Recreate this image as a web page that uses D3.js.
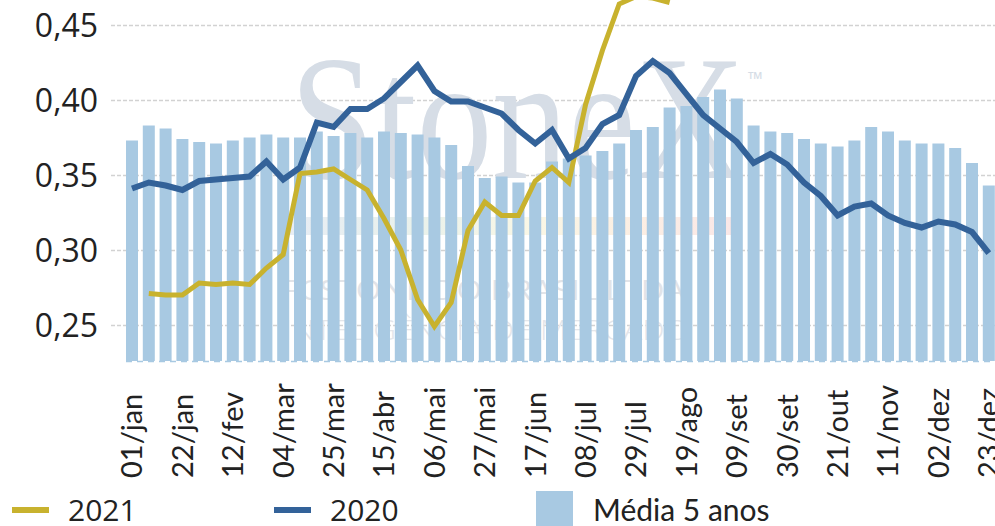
<!DOCTYPE html>
<html>
<head>
<meta charset="utf-8">
<script src="https://cdn.jsdelivr.net/npm/d3@7"></script>
<style>
  body { margin: 0; background: #fff; }
  svg { display: block; }
</style>
</head>
<body>
<div id="chart"></div>
<script>
// weekly categories
const weeks = ["01/jan","08/jan","15/jan","22/jan","29/jan","05/fev","12/fev","19/fev","26/fev",
    "04/mar","11/mar","18/mar","25/mar","01/abr","08/abr","15/abr","22/abr","29/abr",
    "06/mai","13/mai","20/mai","27/mai","03/jun","10/jun","17/jun","24/jun","01/jul",
    "08/jul","15/jul","22/jul","29/jul","05/ago","12/ago","19/ago","26/ago","02/set",
    "09/set","16/set","23/set","30/set","07/out","14/out","21/out","28/out","04/nov",
    "11/nov","18/nov","25/nov","02/dez","09/dez","16/dez","23/dez"];

// Média 5 anos (bars)
const media5 = [0.373,0.383,0.381,0.374,0.372,0.371,0.373,0.375,0.377,0.375,0.375,0.379,0.376,
    0.378,0.375,0.379,0.378,0.377,0.375,0.370,0.356,0.348,0.349,0.345,0.345,0.359,0.361,
    0.363,0.366,0.371,0.380,0.382,0.395,0.396,0.402,0.407,0.401,0.383,0.379,0.378,0.374,
    0.371,0.369,0.373,0.382,0.379,0.373,0.371,0.371,0.368,0.358,0.343];

// 2020
const s2020 = [0.341,0.345,0.343,0.340,0.346,0.347,0.348,0.349,0.359,0.347,0.355,0.385,0.382,
    0.394,0.394,0.401,0.412,0.423,0.406,0.399,0.399,0.395,0.391,0.380,0.371,0.380,0.361,
    0.368,0.384,0.390,0.416,0.426,0.418,0.404,0.390,0.381,0.372,0.358,0.364,0.357,0.345,
    0.336,0.323,0.329,0.331,0.323,0.318,0.315,0.319,0.317,0.312,0.298];

// 2021 (starts in the second week, ends mid-August)
const s2021 = [null,0.271,0.270,0.270,0.278,0.277,0.278,0.277,0.288,0.297,0.351,0.352,0.354,
    0.347,0.340,0.321,0.300,0.267,0.249,0.265,0.313,0.332,0.323,0.323,0.346,0.355,0.345,
    0.397,0.433,0.464,0.469,0.468,0.465];

const yTicks = [0.25, 0.30, 0.35, 0.40, 0.45];

const W = 995, H = 526;
const colBar = "#a8c9e2", col2020 = "#336299", col2021 = "#c8b22e";

const svg = d3.select("#chart").append("svg")
    .attr("width", W)
    .attr("height", H);

const x = d3.scaleBand().domain(weeks).range([123.6, 997.2]).paddingInner(0.286).paddingOuter(0.143);
const y = d3.scaleLinear().domain([0.226, 0.46667]).range([361, 0]);
const cx = d => x(d) + x.bandwidth() / 2;

// gridlines
svg.append("g")
    .attr("transform", "translate(111,0)")
    .call(d3.axisLeft(y).tickValues(yTicks).tickSize(-(W - 111)).tickFormat(""))
    .call(g => g.select(".domain").remove())
    .call(g => g.selectAll("line").attr("stroke", "#d2d2d2").attr("stroke-width", 1.3).attr("stroke-dasharray", "4,2"));

// watermark
const wm = svg.append("g").attr("class", "watermark");
const grad = svg.append("defs").append("linearGradient").attr("id", "wmgrad");
[["0%", "#9fb6d6"], ["30%", "#a9c9b0"], ["55%", "#e8df9a"], ["75%", "#f2c08e"], ["100%", "#eaa0a0"]]
    .forEach(s => grad.append("stop").attr("offset", s[0]).attr("stop-color", s[1]));
wm.append("text")
    .attr("x", 290).attr("y", 178)
    .attr("textLength", 455).attr("lengthAdjust", "spacingAndGlyphs")
    .style("font-family", "'Liberation Serif', serif")
    .style("font-size", "178px")
    .attr("fill", "#d6dde6")
    .text("StoneX");
wm.append("text")
    .attr("x", 748).attr("y", 86)
    .style("font-family", "'Open Sans', sans-serif")
    .style("font-size", "20px")
    .attr("fill", "#d6dde6")
    .text("™");
wm.append("rect")
    .attr("x", 285).attr("y", 217).attr("width", 450).attr("height", 18)
    .attr("fill", "url(#wmgrad)").attr("opacity", 0.25);
wm.append("text")
    .attr("x", 282).attr("y", 300)
    .attr("textLength", 412).attr("lengthAdjust", "spacingAndGlyphs")
    .style("font-family", "'Open Sans', sans-serif").style("font-size", "27px")
    .attr("fill", "#e2e4e8")
    .text("FCSTONE DO BRASIL LTDA.");
wm.append("text")
    .attr("x", 284).attr("y", 340)
    .attr("textLength", 405).attr("lengthAdjust", "spacingAndGlyphs")
    .style("font-family", "'Open Sans', sans-serif").style("font-size", "27px").style("font-weight", 300)
    .attr("fill", "#e4e6ea")
    .text("INTELIGÊNCIA DE MERCADO");

// bars
svg.selectAll(".bar")
    .data(media5)
    .enter().append("rect")
    .attr("class", "bar")
    .attr("x", (d, i) => x(weeks[i]))
    .attr("width", x.bandwidth())
    .attr("y", d => y(d))
    .attr("height", d => y.range()[0] - y(d))
    .attr("fill", colBar);

// dashed base line
svg.append("line")
    .attr("x1", 126).attr("x2", W)
    .attr("y1", 361.5).attr("y2", 361.5)
    .attr("stroke", colBar).attr("stroke-width", 1.5).attr("stroke-dasharray", "6,5");

// lines
const line = d3.line()
    .defined(d => d != null)
    .x((d, i) => cx(weeks[i]))
    .y(d => y(d));

svg.append("path")
    .datum(s2021)
    .attr("fill", "none")
    .attr("stroke", col2021)
    .attr("stroke-width", 5)
    .attr("d", line);

svg.append("path")
    .datum(s2020)
    .attr("fill", "none")
    .attr("stroke", col2020)
    .attr("stroke-width", 6)
    .attr("d", line);

// y axis labels
svg.append("g")
    .attr("transform", "translate(111,0)")
    .call(d3.axisLeft(y).tickValues(yTicks).tickSize(0).tickPadding(13)
        .tickFormat(d => d3.format(".2f")(d).replace(".", ",")))
    .call(g => g.select(".domain").remove())
    .call(g => g.selectAll("text")
        .style("font-family", "'Open Sans', sans-serif")
        .style("font-size", "32px")
        .attr("fill", "#222")
        .attr("dy", "0.36em"));

// x axis labels
svg.append("g")
    .attr("transform", "translate(0,478)")
    .call(d3.axisBottom(x).tickValues(weeks.filter((d, i) => i % 3 === 0)).tickSize(0))
    .call(g => g.select(".domain").remove())
    .call(g => g.selectAll("text")
        .attr("transform", "rotate(-90)")
        .attr("x", 0).attr("y", 0)
        .attr("dy", "0.36em")
        .style("text-anchor", "start")
        .style("font-family", "Lato, sans-serif")
        .style("font-size", "29px")
        .attr("fill", "#222"));

// legend
const legend = svg.append("g");
const items = [
    {label: "2021", color: col2021, x: 12, type: "line"},
    {label: "2020", color: col2020, x: 274, type: "line"},
    {label: "Média 5 anos", color: colBar, x: 536, type: "rect"}
];
items.forEach(it => {
    if (it.type === "line") {
        legend.append("rect").attr("x", it.x).attr("y", 507).attr("width", 37).attr("height", 6).attr("fill", it.color);
    } else {
        legend.append("rect").attr("x", it.x).attr("y", 491).attr("width", 37).attr("height", 37).attr("fill", it.color);
    }
    legend.append("text")
        .attr("x", it.x + (it.type === "line" ? 56 : 57))
        .attr("y", 521)
        .style("font-family", it.type === "line" ? "'Open Sans', sans-serif" : "Lato, sans-serif")
        .style("font-size", "30px")
        .attr("fill", "#222")
        .text(it.label);
});
</script>
</body>
</html>
